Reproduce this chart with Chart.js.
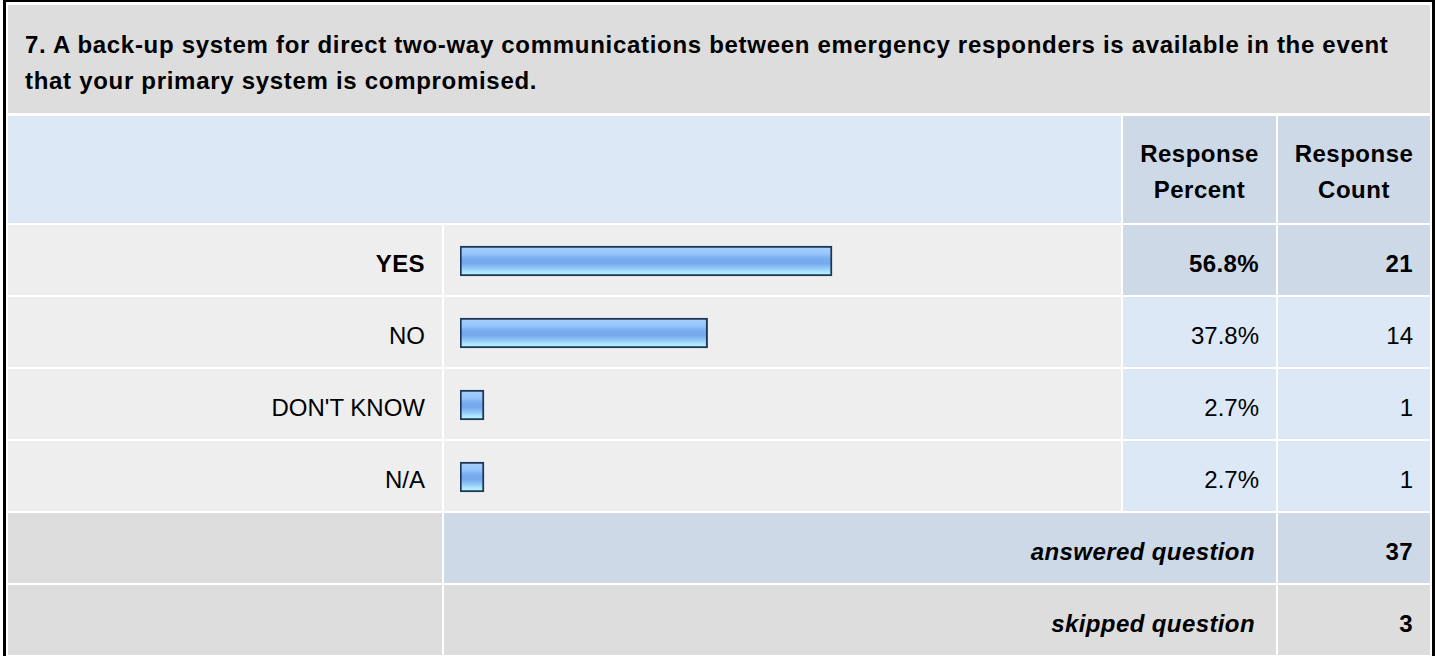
<!DOCTYPE html>
<html>
<head>
<meta charset="utf-8">
<script src="https://cdn.jsdelivr.net/npm/chart.js@4.4.1/dist/chart.umd.min.js"></script>
<style>
  html, body { margin: 0; padding: 0; background: #ffffff; width: 1437px; height: 656px; overflow: hidden; }
  body { position: relative; font-family: "Liberation Sans", Arial, Helvetica, sans-serif; font-size: 24px; color: #000; }
  .frame { position: absolute; left: 3px; top: -1px; width: 1426px; height: 700px; border: 3px solid #000; box-sizing: content-box; background: #fff; }
  .cell { position: absolute; box-sizing: border-box; overflow: hidden; white-space: nowrap; }
  .title { font-weight: bold; line-height: 36px; padding: 22px 17px 0 17px; white-space: normal; letter-spacing: 0.7px; }
  .head { font-weight: bold; line-height: 36px; text-align: center; padding-top: 20px; letter-spacing: 0.5px; }
  .row { line-height: 63px; padding-top: 7px; text-align: right; padding-right: 17px; }
  .b { font-weight: bold; letter-spacing: 0.4px; }
  .bi { font-weight: bold; font-style: italic; letter-spacing: 0.4px; }
  #chartBox { position: absolute; }
</style>
</head>
<body>
<div class="frame"></div>
<div id="tbl"></div>
<div id="chartBox"><canvas id="c"></canvas></div>
<script>
// ---- data ----
const questionTitle = ["7. A back-up system for direct two-way communications between emergency responders is available in the event", "that your primary system is compromised."];
const headerLabels = ["Response Percent", "Response Count"];
const categories = ["YES", "NO", "DON'T KNOW", "N/A"];
const responsePercent = [56.8, 37.8, 2.7, 2.7];
const responseCount = [21, 14, 1, 1];
const summaryLabels = ["answered question", "skipped question"];
const summaryValues = [37, 3];

// ---- layout of the table ----
const COL = [[8, 442], [444, 1121], [1123, 1276], [1278, 1430]];
const C_TITLE = '#dddddd', C_HEADBLANK = '#dce8f5', C_HEADDARK = '#cdd9e6',
      C_ROW = '#eeeeee', C_VAL = '#dce8f5', C_VALDARK = '#cdd9e6';
const tbl = document.getElementById('tbl');
function cell(x0, x1, y0, h, bg, cls, html) {
  const d = document.createElement('div');
  d.className = 'cell ' + (cls || '');
  d.style.left = x0 + 'px'; d.style.top = y0 + 'px';
  d.style.width = (x1 - x0) + 'px'; d.style.height = h + 'px';
  d.style.background = bg;
  if (html !== undefined) d.innerHTML = html;
  tbl.appendChild(d);
  return d;
}
function esc(s) { return String(s).replace(/&/g, '&amp;').replace(/</g, '&lt;'); }

// title
cell(COL[0][0], COL[3][1], 5, 108, C_TITLE, 'title', questionTitle.map(esc).join('<br>'));
// header
const HY = 116, HH = 107;
cell(COL[0][0], COL[1][1], HY, HH, C_HEADBLANK, '');
headerLabels.forEach((h, i) => {
  cell(COL[2 + i][0], COL[2 + i][1], HY, HH, C_HEADDARK, 'head', h.split(' ').map(esc).join('<br>'));
});
// data rows
const RY0 = 225, RP = 72, RH = 70;
const maxIdx = responsePercent.indexOf(Math.max(...responsePercent));
categories.forEach((cat, i) => {
  const y = RY0 + i * RP;
  const isMax = i === maxIdx;
  cell(COL[0][0], COL[0][1], y, RH, C_ROW, 'row' + (isMax ? ' b' : ''), esc(cat));
  cell(COL[1][0], COL[1][1], y, RH, C_ROW, '');
  cell(COL[2][0], COL[2][1], y, RH, isMax ? C_VALDARK : C_VAL, 'row' + (isMax ? ' b' : ''), responsePercent[i].toFixed(1) + '%');
  cell(COL[3][0], COL[3][1], y, RH, isMax ? C_VALDARK : C_VAL, 'row' + (isMax ? ' b' : ''), String(responseCount[i]));
});
// summary rows
summaryLabels.forEach((lab, j) => {
  const y = RY0 + (categories.length + j) * RP;
  const bg = j === 0 ? C_HEADDARK : C_TITLE;
  cell(COL[0][0], COL[0][1], y, RH, C_TITLE, '');
  const c2 = cell(COL[1][0], COL[2][1], y, RH, bg, 'row bi', esc(lab));
  c2.style.paddingRight = '21px';
  cell(COL[3][0], COL[3][1], y, RH, bg, 'row b', String(summaryValues[j]));
});

// ---- chart (bars) ----
const box = document.getElementById('chartBox');
box.style.left = COL[1][0] + 'px';
box.style.top = RY0 + 'px';
box.style.width = (COL[1][1] - COL[1][0]) + 'px';
box.style.height = (categories.length * RP) + 'px';

function makeGradient(ctx, yTop, yBot) {
  const g = ctx.createLinearGradient(0, yTop, 0, yBot);
  g.addColorStop(0.00, '#a8d2fd');
  g.addColorStop(0.25, '#98c6fa');
  g.addColorStop(0.42, '#78adee');
  g.addColorStop(0.58, '#74aaed');
  g.addColorStop(0.72, '#90c3f6');
  g.addColorStop(0.86, '#a9e6fd');
  g.addColorStop(1.00, '#bdfcff');
  return g;
}
function barFill(c) {
  const chart = c.chart;
  const y = chart.scales && chart.scales.y;
  if (!y || c.dataIndex === undefined) return '#86b9f3';
  const yc = y.getPixelForValue(c.dataIndex);
  if (!isFinite(yc)) return '#86b9f3';
  return makeGradient(chart.ctx, yc - 15, yc + 15);
}
const gradientPlugin = {
  id: 'barGradient',
  beforeDatasetsDraw(chart) {
    const meta = chart.getDatasetMeta(0);
    meta.data.forEach(el => {
      const p = el.getProps(['y', 'height'], true);
      if (isFinite(p.y) && isFinite(p.height) && el.options && !Object.isFrozen(el.options)) {
        el.options.backgroundColor = makeGradient(chart.ctx, p.y - p.height / 2, p.y + p.height / 2);
      }
    });
  }
};

new Chart(document.getElementById('c'), {
  type: 'bar',
  data: {
    labels: categories,
    datasets: [{
      data: responsePercent,
      backgroundColor: barFill,
      borderColor: '#1e3659',
      borderWidth: 2,
      borderSkipped: false,
      barThickness: 30,
      minBarLength: 24
    }]
  },
  options: {
    indexAxis: 'y',
    responsive: true,
    maintainAspectRatio: false,
    animation: false,
    events: [],
    layout: { padding: { left: 16, right: 6, top: 0, bottom: 0 } },
    plugins: { legend: { display: false }, tooltip: { enabled: false } },
    scales: {
      x: { display: false, min: 0, max: 100 },
      y: { display: false, offset: true }
    }
  },
  plugins: [gradientPlugin]
});
</script>
</body>
</html>
